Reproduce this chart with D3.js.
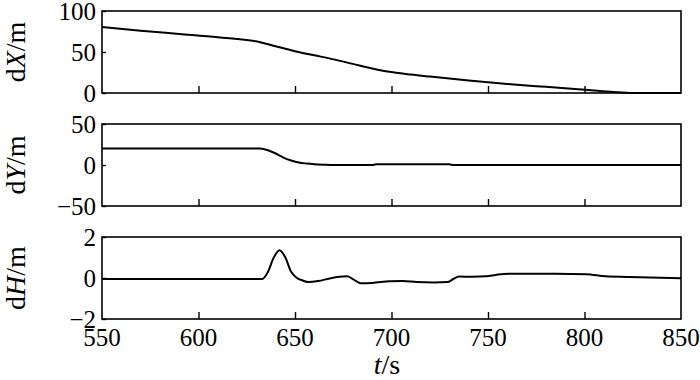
<!DOCTYPE html>
<html><head><meta charset="utf-8">
<script src="https://cdn.jsdelivr.net/npm/d3@7"></script>
<style>body{margin:0;background:#fff}svg{display:block}</style>
</head><body><svg id="c" width="700" height="380" font-family="Liberation Serif, Times New Roman, Tinos, Times, serif"></svg>
<script>
const xTicks = [550, 600, 650, 700, 750, 800, 850];

const tX = [550,570,590,610,632,640,650,660,670,680,690,700,710,720,735,750,765,780,795,805,815,825,850];
const dX = [80.5,76,72,68,62,57,51,46,41,35.5,30,25.5,22.5,20,16.5,13,10,7.5,5,3,1.2,0,0];

const tY = [550,632,636,640,644,648,652,656,660,665,670,690,692,730,732,850];
const dY = [20,20,18,14,9,5.5,3,1.8,1,0.4,0,0,0.8,0.8,0,0];

const tH = [550,633,636,639,642,645,648,651,654,657,662,668,673,677,680,684,690,699,706,713,722,729,732,735,742,749,754,758,770,785,801,811,822,834,850];
const dH = [-0.05,-0.05,0.3,1.0,1.35,1.0,0.3,0.0,-0.12,-0.2,-0.15,-0.02,0.06,0.08,-0.05,-0.25,-0.24,-0.16,-0.15,-0.2,-0.22,-0.2,-0.05,0.07,0.06,0.08,0.15,0.2,0.21,0.21,0.18,0.08,0.05,0.02,-0.01];

const panels = [
  {t: tX, v: dX, domain: [0, 100], ticks: [0, 50, 100], name: "X"},
  {t: tY, v: dY, domain: [-50, 50], ticks: [-50, 0, 50], name: "Y"},
  {t: tH, v: dH, domain: [-2, 2], ticks: [-2, 0, 2], name: "H"}
];

const svg = d3.select("#c");
const FONT = "Liberation Serif, Times New Roman, Tinos, Times, serif";
const L = 102, R = 681, PH = 82;
const tops = [11, 124, 237];
const x = d3.scaleLinear().domain([550, 850]).range([L, R]);
const fmt = v => (v < 0 ? "\u2212" + Math.abs(v) : String(v));

panels.forEach((p, i) => {
  const top = tops[i], bot = top + PH;
  const y = d3.scaleLinear().domain(p.domain).range([bot, top]);
  const g = svg.append("g");

  const line = d3.line().x((d, k) => x(p.t[k])).y(d => y(d)).curve(d3.curveMonotoneX);
  g.append("path").datum(p.v).attr("d", line)
    .attr("fill", "none").attr("stroke", "#000").attr("stroke-width", 2);

  g.append("rect").attr("x", L).attr("y", top).attr("width", R - L).attr("height", PH)
    .attr("fill", "none").attr("stroke", "#000").attr("stroke-width", 1.6);

  const xa = d3.axisBottom(x).tickValues(xTicks.slice(1, -1)).tickSizeInner(-7).tickSizeOuter(0)
    .tickFormat("");
  const gx = g.append("g").attr("transform", `translate(0,${bot})`).call(xa);
  gx.select(".domain").remove();
  gx.selectAll("line").attr("stroke", "#000").attr("stroke-width", 1.4);

  const ya = d3.axisLeft(y).tickValues(p.ticks).tickSizeInner(-4).tickSizeOuter(0).tickFormat("");
  const gy = g.append("g").attr("transform", `translate(${L},0)`).call(ya);
  gy.select(".domain").remove();
  gy.selectAll("line").attr("stroke", "#000").attr("stroke-width", 1.4);
  g.selectAll("text.yl").data(p.ticks).enter().append("text")
    .attr("font-family", FONT).attr("fill", "#000")
    .attr("x", 96).attr("y", d => y(d)).attr("dy", "0.34em")
    .attr("text-anchor", "end").attr("font-size", 25).text(fmt);

  const lab = g.append("text").attr("transform", `translate(25,${(top + bot) / 2}) rotate(-90)`)
    .attr("font-family", FONT).attr("fill", "#000")
    .attr("text-anchor", "middle").attr("font-size", 28);
  lab.append("tspan").text("d");
  lab.append("tspan").attr("font-style", "italic").text(p.name);
  lab.append("tspan").text("/m");

  if (i === 2) {
    g.selectAll("text.xl").data(xTicks).enter().append("text")
      .attr("font-family", FONT).attr("fill", "#000")
      .attr("x", d => x(d)).attr("y", 346).attr("text-anchor", "middle")
      .attr("font-size", 25).text(d => d);
    const xl = g.append("text").attr("x", 387).attr("y", 374).attr("text-anchor", "middle")
      .attr("font-family", FONT).attr("fill", "#000").attr("font-size", 28);
    xl.append("tspan").attr("font-style", "italic").text("t");
    xl.append("tspan").text("/s");
  }
});
</script></body></html>
